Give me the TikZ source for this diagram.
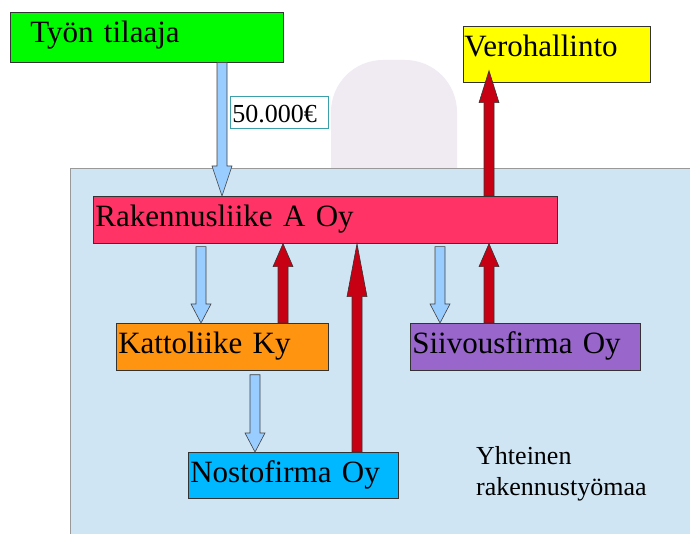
\documentclass[tikz,border=0pt]{standalone}
\usepackage{fontspec}
\setmainfont{Liberation Serif}
\newfontfamily\boxfont{Liberation Serif}
\usetikzlibrary{calc}
\definecolor{bgblue}{RGB}{207,229,243}
\definecolor{ghost}{RGB}{240,235,243}
\definecolor{cgreen}{RGB}{0,250,0}
\definecolor{cyellow}{RGB}{255,255,0}
\definecolor{cpink}{RGB}{255,51,102}
\definecolor{corange}{RGB}{255,148,17}
\definecolor{cpurple}{RGB}{153,102,204}
\definecolor{ccyan}{RGB}{0,184,255}
\definecolor{arrblue}{RGB}{153,204,255}
\definecolor{arrred}{RGB}{200,0,20}
\definecolor{teal2}{RGB}{60,160,170}
\newcommand\flowarrow[4]{%
  \draw[#1] let \p1=(#2), \p2=(#3), \p3=($(#3)!#4!(#2)$) in
    ({\x1-5pt},\y1) -- ({\x1-5pt},\y3) -- ({\x1-10pt},\y3) -- (\x1,\y2)
    -- ({\x1+10pt},\y3) -- ({\x1+5pt},\y3) -- ({\x1+5pt},\y1) -- cycle;}
\begin{document}
\begin{tikzpicture}[x=1pt,y=-1pt,
  box/.style={draw=black!80, line width=0.7pt, anchor=north west,
    inner xsep=0pt, inner ysep=0pt, text height=30pt, align=left,
    font=\boxfont\fontsize{31}{37}\selectfont},
  bluearrow/.style={fill=arrblue, draw=black!75, line width=0.6pt},
  redarrow/.style={fill=arrred, draw=black!80, line width=0.6pt}]
\useasboundingbox (0,0) rectangle (690,534);
\clip (0,0) rectangle (690,534);
\fill[white] (0,0) rectangle (690,534);
\fill[ghost, rounded corners=52pt] (331,280) -- (331,60) -- (457,60) -- (457,280) -- cycle;
\path[fill=bgblue, draw=black!40, line width=0.8pt] (70,168) rectangle (700,545);
\node[anchor=base west, align=left, inner sep=0pt,
  font=\boxfont\fontsize{26}{31}\selectfont] (site) at (476,495) {Yhteinen\\rakennustyömaa};

\node[box, fill=cgreen, text width=273pt, text depth=20pt] (tilaaja) at (10,12) {\hspace*{20pt}Työn tilaaja};
\node[box, fill=cyellow, text width=187pt, text depth=26pt] (vero) at (463,26) {\hspace*{1pt}Verohallinto};
\node[box, fill=cpink, text width=464pt, text depth=17pt] (rak) at (93,196) {\hspace*{2pt}Rakennusliike A Oy};
\node[box, fill=corange, text width=212pt, text depth=17pt] (katto) at (116,323) {\hspace*{2pt}Kattoliike Ky};
\node[box, fill=cpurple, text width=230pt, text depth=17pt] (siiv) at (410,323) {\hspace*{2pt}Siivousfirma Oy};
\node[box, fill=ccyan, text width=210pt, text depth=16pt] (nosto) at (188,452) {\hspace*{2pt}Nostofirma Oy};
\node[box, draw=teal2, fill=white, line width=0.8pt, text width=98pt, text height=26pt, text depth=6pt,
  font=\boxfont\fontsize{26}{31}\selectfont] (price) at (230,96) {\hspace*{2pt}50.000€};

\coordinate (a1) at ([xshift=212pt]tilaaja.south west);
\coordinate (a2) at ([xshift=396pt]rak.north west);
\coordinate (a2e) at (a2 |- vero.south);
\coordinate (a3) at ([xshift=108pt,yshift=-3pt]rak.south west);
\coordinate (a4) at ([xshift=167pt]katto.north west);
\coordinate (a5) at ([xshift=169pt]nosto.north west);
\coordinate (a6) at ([xshift=347pt,yshift=-3pt]rak.south west);
\coordinate (a7) at ([xshift=79pt]siiv.north west);
\coordinate (a8) at ([xshift=139pt,yshift=-4pt]katto.south west);

\flowarrow{bluearrow}{a1}{a1 |- rak.north}{30pt}
\flowarrow{redarrow}{a2}{[yshift=12pt]a2e}{32pt}
\flowarrow{bluearrow}{a3}{a3 |- katto.north}{19pt}
\flowarrow{redarrow}{a4}{a4 |- rak.south}{23pt}
\flowarrow{redarrow}{a5}{a5 |- rak.south}{53pt}
\flowarrow{bluearrow}{a6}{a6 |- siiv.north}{19pt}
\flowarrow{redarrow}{a7}{a7 |- rak.south}{23pt}
\flowarrow{bluearrow}{a8}{a8 |- nosto.north}{19pt}
\end{tikzpicture}
\end{document}
